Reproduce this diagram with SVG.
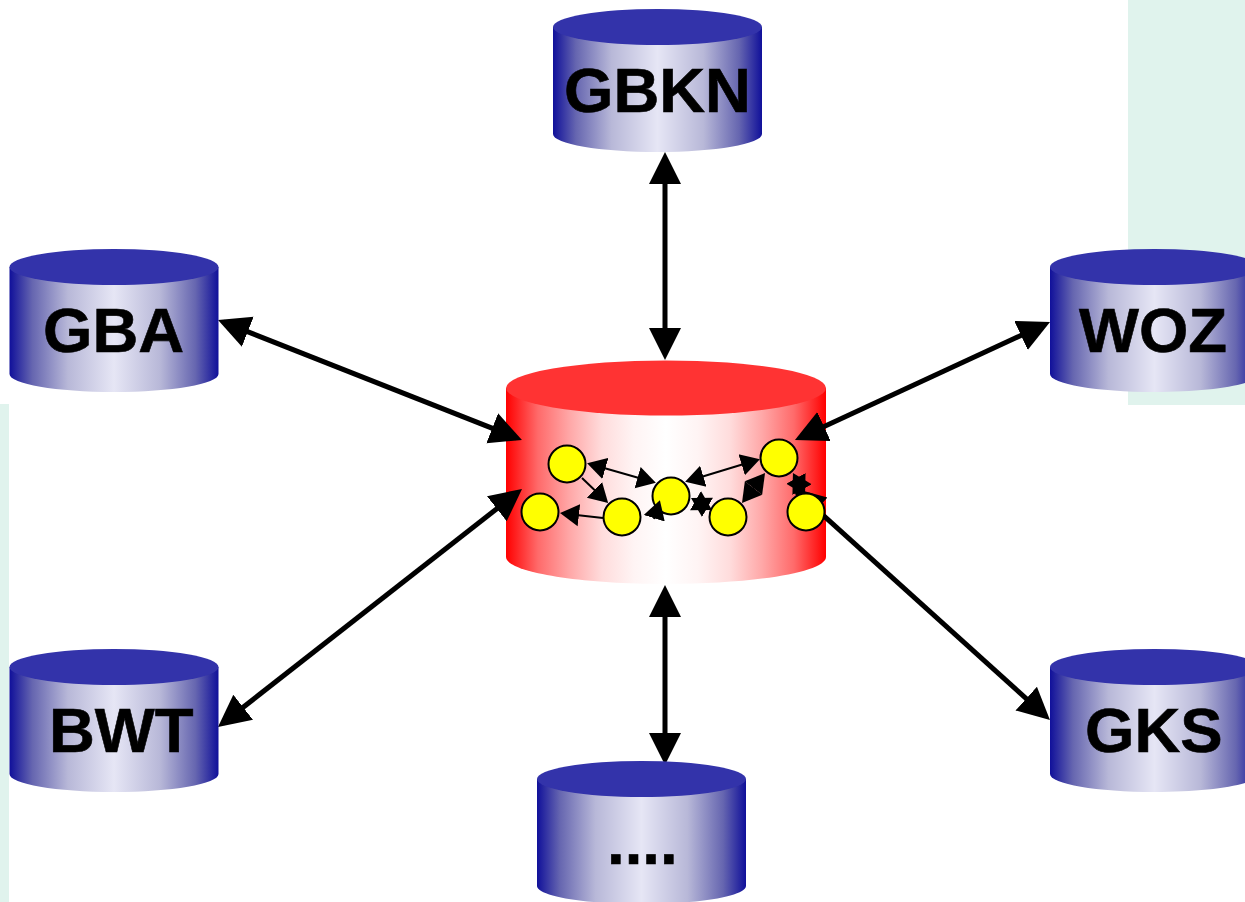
<svg xmlns="http://www.w3.org/2000/svg" width="1245" height="902" viewBox="0 0 1245 902">
<style>
.band{fill:#e0f3ed}
.body{fill:url(#blue)}
.top{fill:#3333aa}
.label{font-family:"Liberation Sans",Arial,sans-serif;font-weight:bold;font-size:63.500px;fill:#000;stroke:#000;stroke-width:0.600}
.main{stroke:#000;stroke-width:5;fill:none;marker-start:url(#big);marker-end:url(#big)}
.small{stroke:#000;stroke-width:2;fill:none;marker-start:url(#small);marker-end:url(#small)}
.single{stroke:#000;stroke-width:2;fill:none;marker-end:url(#small)}
.dot{fill:#ffff00;stroke:#000;stroke-width:2}
</style>
<defs>
<linearGradient id="blue" x1="0" y1="0" x2="1" y2="0">
<stop offset="0" stop-color="#10109a"/><stop offset="0.11" stop-color="#6666b0"/><stop offset="0.28" stop-color="#b8b8d8"/><stop offset="0.5" stop-color="#e6e6f5"/><stop offset="0.72" stop-color="#b8b8d8"/><stop offset="0.89" stop-color="#6666b0"/><stop offset="1" stop-color="#10109a"/>
</linearGradient>
<linearGradient id="red" x1="0" y1="0" x2="1" y2="0">
<stop offset="0" stop-color="#ff0000"/><stop offset="0.1" stop-color="#ff6a6a"/><stop offset="0.2" stop-color="#ffa8a8"/><stop offset="0.3" stop-color="#ffdcdc"/><stop offset="0.4" stop-color="#fff4f4"/><stop offset="0.5" stop-color="#ffffff"/><stop offset="0.6" stop-color="#fff4f4"/><stop offset="0.7" stop-color="#ffdcdc"/><stop offset="0.8" stop-color="#ffa8a8"/><stop offset="0.9" stop-color="#ff6a6a"/><stop offset="1" stop-color="#ff0000"/>
</linearGradient>
<marker id="big" markerUnits="userSpaceOnUse" markerWidth="34" markerHeight="34" refX="26" refY="17" orient="auto-start-reverse" viewBox="0 0 34 34">
<path d="M0 1L32 17L0 33z" fill="#000"/>
</marker>
<marker id="small" markerUnits="userSpaceOnUse" markerWidth="24" markerHeight="24" refX="16" refY="12" orient="auto-start-reverse" viewBox="0 0 24 24">
<path d="M0 1L19 12L0 23z" fill="#000"/>
</marker>
<g id="drum">
<path class="body" d="M0 18V125C0 135 47 143 104.500 143S209 135 209 125V18z"/>
<ellipse class="top" cx="104.500" cy="18" rx="104.500" ry="18"/>
</g>
</defs>
<rect class="band" x="1128" y="0" width="117" height="405"/>
<rect class="band" x="0" y="404" width="9" height="498"/>
<g id="node-center">
<path fill="url(#red)" d="M506 388V557C506 572 578 584 666 584S826 572 826 557V388z"/>
<ellipse cx="666" cy="388" rx="160" ry="27.500" fill="#ff3333"/>
</g>
<g id="inner-node-4"><circle class="dot" cx="671" cy="496" r="18.500"/></g>
<g id="connectors">
<line class="main" x1="665" y1="158" x2="665" y2="354"/>
<line class="main" x1="223.600" y1="322.200" x2="516.400" y2="437.800"/>
<line class="main" x1="1044.600" y1="324.500" x2="800.400" y2="437.500"/>
<line class="main" x1="222.700" y1="723.300" x2="517.300" y2="492.700"/>
<line class="main" x1="665" y1="591" x2="665" y2="759"/>
<line class="main" x1="797.400" y1="492" x2="1045.500" y2="716"/>
<line class="small" x1="590" y1="464" x2="653" y2="482"/>
<line class="small" x1="688" y1="481" x2="757" y2="460"/>
<line class="single" x1="582" y1="478" x2="606" y2="501"/>
<line class="single" x1="603" y1="518" x2="563" y2="513.400"/>
<line class="single" x1="654" y1="519" x2="659" y2="503"/>
<line class="small" x1="693.600" y1="499.500" x2="709.400" y2="508.500"/>
<line class="small" x1="743.800" y1="500.600" x2="763.200" y2="475.400"/>
<line class="small" x1="794.400" y1="475.600" x2="803.600" y2="492.400"/>
</g>
<g id="node-gbkn"><use href="#drum" x="553" y="9"/><text class="label" x="564" y="112">GBKN</text></g>
<g id="node-gba"><use href="#drum" x="9.500" y="249"/><text class="label" x="43" y="352">GBA</text></g>
<g id="node-woz"><use href="#drum" x="1050" y="249"/><text class="label" x="1079" y="352">WOZ</text></g>
<g id="node-bwt"><use href="#drum" x="9.500" y="649"/><text class="label" x="49" y="752">BWT</text></g>
<g id="node-gks"><use href="#drum" x="1050" y="649"/><text class="label" x="1085" y="752">GKS</text></g>
<g id="node-more"><use href="#drum" x="537" y="761"/><text class="label" x="607" y="864">....</text></g>
<g id="inner-nodes">
<circle class="dot" cx="567" cy="464" r="18.500"/>
<circle class="dot" cx="540" cy="512" r="18.500"/>
<circle class="dot" cx="622" cy="517" r="18.500"/>
<circle class="dot" cx="728" cy="517" r="18.500"/>
<circle class="dot" cx="779" cy="458" r="18.500"/>
<circle class="dot" cx="806" cy="512" r="18.500"/>
</g>
</svg>
